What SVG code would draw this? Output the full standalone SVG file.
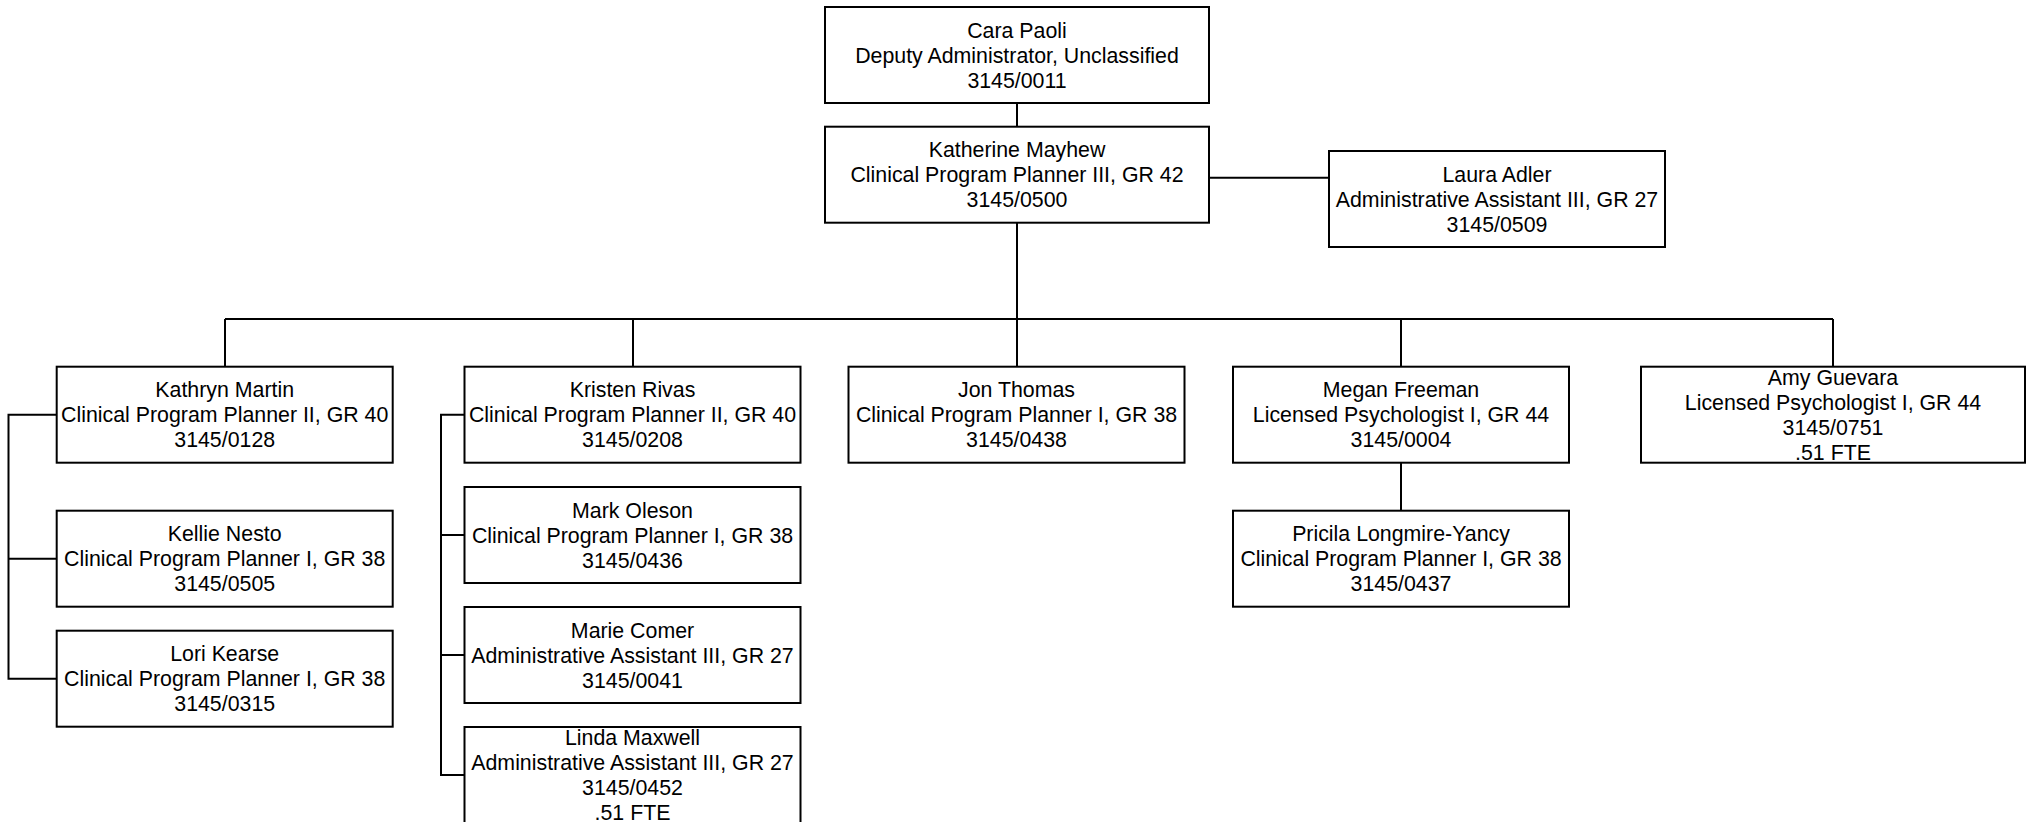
<svg xmlns="http://www.w3.org/2000/svg" width="2026" height="822" viewBox="0 0 2026 822">
<style>
.box{fill:#fff;stroke:#000;stroke-width:2}
.c{fill:none;stroke:#000;stroke-width:2}
.t{font-family:"Liberation Sans",Arial,sans-serif;font-size:21.33px;text-anchor:middle;fill:#000}
</style>
<rect x="0" y="0" width="2026" height="822" fill="#fff"/>
<g id="connectors">
<path class="c" d="M1017 102.7V126.7"/>
<path class="c" d="M1209 177.7H1329"/>
<path class="c" d="M1017 222.7V319"/>
<path class="c" d="M225 319H1833"/>
<path class="c" d="M225 319V366.7"/>
<path class="c" d="M633 319V366.7"/>
<path class="c" d="M1017 319V366.7"/>
<path class="c" d="M1401 319V366.7"/>
<path class="c" d="M1833 319V366.7"/>
<path class="c" d="M1401 462.7V510.7"/>
<path class="c" d="M56.7 414.7H8.5V678.7H56.7"/>
<path class="c" d="M8.5 558.7H56.7"/>
<path class="c" d="M464.5 414.7H441V775H464.5"/>
<path class="c" d="M441 535H464.5"/>
<path class="c" d="M441 655H464.5"/>
</g>
<g id="cara">
<rect class="box" x="825" y="7" width="384" height="96"/>
<text class="t" x="1017" y="37.5">Cara Paoli<tspan x="1017" dy="25">Deputy Administrator, Unclassified</tspan><tspan x="1017" dy="25">3145/0011</tspan></text>
</g>
<g id="katherine">
<rect class="box" x="825" y="126.7" width="384" height="96"/>
<text class="t" x="1017" y="157.2">Katherine Mayhew<tspan x="1017" dy="25">Clinical Program Planner III, GR 42</tspan><tspan x="1017" dy="25">3145/0500</tspan></text>
</g>
<g id="laura">
<rect class="box" x="1329" y="151" width="336" height="96"/>
<text class="t" x="1497" y="181.5">Laura Adler<tspan x="1497" dy="25">Administrative Assistant III, GR 27</tspan><tspan x="1497" dy="25">3145/0509</tspan></text>
</g>
<g id="kathryn">
<rect class="box" x="56.7" y="366.7" width="336" height="96"/>
<text class="t" x="224.7" y="397.2">Kathryn Martin<tspan x="224.7" dy="25">Clinical Program Planner II, GR 40</tspan><tspan x="224.7" dy="25">3145/0128</tspan></text>
</g>
<g id="kellie">
<rect class="box" x="56.7" y="510.7" width="336" height="96"/>
<text class="t" x="224.7" y="541.2">Kellie Nesto<tspan x="224.7" dy="25">Clinical Program Planner I, GR 38</tspan><tspan x="224.7" dy="25">3145/0505</tspan></text>
</g>
<g id="lori">
<rect class="box" x="56.7" y="630.7" width="336" height="96"/>
<text class="t" x="224.7" y="661.2">Lori Kearse<tspan x="224.7" dy="25">Clinical Program Planner I, GR 38</tspan><tspan x="224.7" dy="25">3145/0315</tspan></text>
</g>
<g id="kristen">
<rect class="box" x="464.5" y="366.7" width="336" height="96"/>
<text class="t" x="632.5" y="397.2">Kristen Rivas<tspan x="632.5" dy="25">Clinical Program Planner II, GR 40</tspan><tspan x="632.5" dy="25">3145/0208</tspan></text>
</g>
<g id="mark">
<rect class="box" x="464.5" y="487" width="336" height="96"/>
<text class="t" x="632.5" y="517.5">Mark Oleson<tspan x="632.5" dy="25">Clinical Program Planner I, GR 38</tspan><tspan x="632.5" dy="25">3145/0436</tspan></text>
</g>
<g id="marie">
<rect class="box" x="464.5" y="607" width="336" height="96"/>
<text class="t" x="632.5" y="637.5">Marie Comer<tspan x="632.5" dy="25">Administrative Assistant III, GR 27</tspan><tspan x="632.5" dy="25">3145/0041</tspan></text>
</g>
<g id="linda">
<rect class="box" x="464.5" y="727" width="336" height="96"/>
<text class="t" x="632.5" y="745">Linda Maxwell<tspan x="632.5" dy="25">Administrative Assistant III, GR 27</tspan><tspan x="632.5" dy="25">3145/0452</tspan><tspan x="632.5" dy="25">.51 FTE</tspan></text>
</g>
<g id="jon">
<rect class="box" x="848.5" y="366.7" width="336" height="96"/>
<text class="t" x="1016.5" y="397.2">Jon Thomas<tspan x="1016.5" dy="25">Clinical Program Planner I, GR 38</tspan><tspan x="1016.5" dy="25">3145/0438</tspan></text>
</g>
<g id="megan">
<rect class="box" x="1233" y="366.7" width="336" height="96"/>
<text class="t" x="1401" y="397.2">Megan Freeman<tspan x="1401" dy="25">Licensed Psychologist I, GR 44</tspan><tspan x="1401" dy="25">3145/0004</tspan></text>
</g>
<g id="pricila">
<rect class="box" x="1233" y="510.7" width="336" height="96"/>
<text class="t" x="1401" y="541.2">Pricila Longmire-Yancy<tspan x="1401" dy="25">Clinical Program Planner I, GR 38</tspan><tspan x="1401" dy="25">3145/0437</tspan></text>
</g>
<g id="amy">
<rect class="box" x="1641" y="366.7" width="384" height="96"/>
<text class="t" x="1833" y="384.7">Amy Guevara<tspan x="1833" dy="25">Licensed Psychologist I, GR 44</tspan><tspan x="1833" dy="25">3145/0751</tspan><tspan x="1833" dy="25">.51 FTE</tspan></text>
</g>
</svg>
